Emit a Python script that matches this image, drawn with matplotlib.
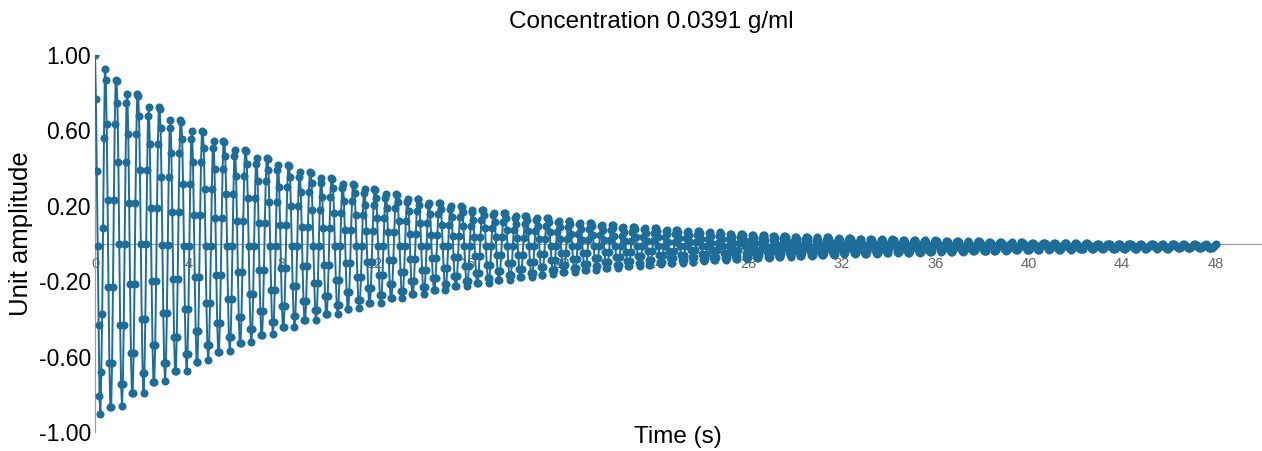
import numpy as np
import matplotlib
matplotlib.use('Agg')
import matplotlib.pyplot as plt

plt.rcParams['font.family'] = ['Liberation Sans', 'DejaVu Sans']

title = 'Concentration 0.0391 g/ml'
x_label = 'Time (s)'
y_label = 'Unit amplitude'
x_ticks = [0, 4, 8, 12, 16, 20, 24, 28, 32, 36, 40, 44, 48]
y_ticks = [1.00, 0.60, 0.20, -0.20, -0.60, -1.00]
sample_step = 0.0385  # s between samples

# signal, in thousandths, one oscillation (12 samples) per row
signal_milli = [
    1000, 766, 386, -12, -435, -810, -905, -684, -375, 80, 560, 928,
    868, 636, 233, -233, -636, -868, -868, -636, -233, 233, 636, 868,
    860, 745, 430, 0, -430, -745, -860, -745, -430, 0, 430, 745,
    795, 582, 213, -213, -582, -795, -795, -582, -213, 213, 582, 795,
    783, 677, 389, -5, -399, -687, -793, -687, -399, -5, 389, 677,
    723, 528, 190, -200, -538, -733, -733, -538, -200, 190, 528, 723,
    711, 614, 351, -10, -371, -634, -731, -634, -371, -10, 351, 614,
    657, 478, 169, -189, -498, -677, -677, -498, -189, 169, 478, 657,
    646, 557, 316, -15, -346, -587, -676, -587, -346, -15, 316, 557,
    596, 432, 149, -179, -462, -626, -626, -462, -179, 149, 432, 596,
    590, 509, 288, -15, -318, -539, -620, -539, -318, -15, 288, 509,
    544, 394, 135, -165, -424, -574, -574, -424, -165, 135, 394, 544,
    539, 465, 262, -15, -292, -495, -569, -495, -292, -15, 262, 465,
    497, 360, 122, -152, -390, -527, -527, -390, -152, 122, 360, 497,
    492, 424, 239, -15, -269, -454, -522, -454, -269, -15, 239, 424,
    454, 329, 111, -141, -359, -484, -484, -359, -141, 111, 329, 454,
    450, 388, 218, -15, -248, -418, -480, -418, -248, -15, 218, 388,
    415, 300, 100, -130, -330, -445, -445, -330, -130, 100, 300, 415,
    411, 354, 198, -15, -228, -384, -441, -384, -228, -15, 198, 354,
    378, 273, 90, -120, -303, -408, -408, -303, -120, 90, 273, 378,
    375, 323, 180, -15, -210, -353, -405, -353, -210, -15, 180, 323,
    345, 249, 82, -112, -279, -375, -375, -279, -112, 82, 249, 345,
    342, 294, 164, -15, -194, -324, -372, -324, -194, -15, 164, 294,
    315, 227, 74, -104, -257, -345, -345, -257, -104, 74, 227, 315,
    312, 268, 149, -15, -179, -298, -342, -298, -179, -15, 149, 268,
    287, 206, 66, -96, -236, -317, -317, -236, -96, 66, 206, 287,
    284, 244, 135, -15, -165, -274, -314, -274, -165, -15, 135, 244,
    261, 187, 59, -89, -217, -291, -291, -217, -89, 59, 187, 261,
    259, 222, 122, -15, -152, -252, -289, -252, -152, -15, 122, 222,
    238, 170, 53, -83, -200, -268, -268, -200, -83, 53, 170, 238,
    236, 202, 111, -15, -141, -232, -266, -232, -141, -15, 111, 202,
    217, 155, 47, -77, -185, -247, -247, -185, -77, 47, 155, 217,
    215, 184, 100, -15, -130, -214, -245, -214, -130, -15, 100, 184,
    198, 141, 42, -72, -171, -228, -228, -171, -72, 42, 141, 198,
    196, 168, 91, -15, -121, -198, -226, -198, -121, -15, 91, 168,
    179, 127, 37, -67, -157, -209, -209, -157, -67, 37, 127, 179,
    178, 152, 82, -15, -112, -182, -208, -182, -112, -15, 82, 152,
    163, 115, 33, -63, -145, -193, -193, -145, -63, 33, 115, 163,
    161, 137, 73, -15, -103, -167, -191, -167, -103, -15, 73, 137,
    148, 104, 29, -59, -134, -178, -178, -134, -59, 29, 104, 148,
    147, 125, 66, -15, -96, -155, -177, -155, -96, -15, 66, 125,
    135, 95, 25, -55, -125, -165, -165, -125, -55, 25, 95, 135,
    133, 113, 59, -15, -89, -143, -163, -143, -89, -15, 59, 113,
    122, 85, 22, -52, -115, -152, -152, -115, -52, 22, 85, 122,
    120, 102, 53, -15, -83, -132, -150, -132, -83, -15, 53, 102,
    111, 77, 19, -49, -107, -141, -141, -107, -49, 19, 77, 111,
    109, 92, 47, -15, -77, -122, -139, -122, -77, -15, 47, 92,
    100, 69, 16, -46, -99, -130, -130, -99, -46, 16, 69, 100,
    99, 84, 42, -15, -72, -114, -129, -114, -72, -15, 42, 84,
    90, 62, 13, -43, -92, -120, -120, -92, -43, 13, 62, 90,
    89, 75, 37, -15, -67, -105, -119, -105, -67, -15, 37, 75,
    82, 56, 11, -41, -86, -112, -112, -86, -41, 11, 56, 82,
    80, 67, 33, -15, -63, -97, -110, -97, -63, -15, 33, 67,
    73, 49, 9, -39, -79, -103, -103, -79, -39, 9, 49, 73,
    72, 60, 29, -15, -59, -90, -102, -90, -59, -15, 29, 60,
    66, 44, 7, -37, -74, -96, -96, -74, -37, 7, 44, 66,
    65, 54, 25, -15, -55, -84, -95, -84, -55, -15, 25, 54,
    59, 39, 5, -35, -69, -89, -89, -69, -35, 5, 39, 59,
    58, 48, 22, -15, -52, -78, -88, -78, -52, -15, 22, 48,
    53, 34, 3, -33, -64, -83, -83, -64, -33, 3, 34, 53,
    52, 43, 19, -15, -49, -73, -82, -73, -49, -15, 19, 43,
    47, 30, 2, -32, -60, -77, -77, -60, -32, 2, 30, 47,
    47, 39, 16, -15, -46, -69, -77, -69, -46, -15, 16, 39,
    42, 27, 0, -30, -57, -72, -72, -57, -30, 0, 27, 42,
    41, 33, 13, -15, -43, -63, -71, -63, -43, -15, 13, 33,
    37, 23, -1, -29, -53, -67, -67, -53, -29, -1, 23, 37,
    37, 30, 11, -15, -41, -60, -67, -60, -41, -15, 11, 30,
    32, 20, -2, -28, -50, -62, -62, -50, -28, -2, 20, 32,
    32, 26, 9, -15, -39, -56, -62, -56, -39, -15, 9, 26,
    28, 17, -3, -27, -47, -58, -58, -47, -27, -3, 17, 28,
    28, 22, 7, -15, -37, -52, -58, -52, -37, -15, 7, 22,
    25, 14, -4, -26, -44, -55, -55, -44, -26, -4, 14, 25,
    25, 20, 5, -15, -35, -50, -55, -50, -35, -15, 5, 20,
    22, 12, -5, -25, -42, -52, -52, -42, -25, -5, 12, 22,
    21, 16, 3, -15, -33, -46, -51, -46, -33, -15, 3, 16,
    19, 10, -6, -24, -40, -49, -49, -40, -24, -6, 10, 19,
    18, 14, 2, -15, -32, -44, -48, -44, -32, -15, 2, 14,
    16, 8, -7, -23, -38, -46, -46, -38, -23, -7, 8, 16,
    15, 11, 0, -15, -30, -41, -45, -41, -30, -15, 0, 11,
    13, 6, -7, -23, -36, -43, -43, -36, -23, -7, 6, 13,
    13, 9, -1, -15, -29, -39, -43, -39, -29, -15, -1, 9,
    11, 4, -8, -22, -34, -41, -41, -34, -22, -8, 4, 11,
    11, 8, -2, -15, -28, -38, -41, -38, -28, -15, -2, 8,
    8, 2, -9, -21, -32, -38, -38, -32, -21, -9, 2, 8,
    8, 5, -3, -15, -27, -35, -38, -35, -27, -15, -3, 5,
    6, 1, -9, -21, -31, -36, -36, -31, -21, -9, 1, 6,
    6, 3, -4, -15, -26, -33, -36, -33, -26, -15, -4, 3,
    4, -1, -10, -20, -29, -34, -34, -29, -20, -10, -1, 4,
    4, 1, -5, -15, -25, -31, -34, -31, -25, -15, -5, 1,
    3, -2, -10, -20, -28, -33, -33, -28, -20, -10, -2, 3,
    3, 1, -6, -15, -24, -31, -33, -31, -24, -15, -6, 1,
    1, -3, -11, -19, -27, -31, -31, -27, -19, -11, -3, 1,
    1, -1, -7, -15, -23, -29, -31, -29, -23, -15, -7, -1,
    0, -4, -11, -19, -26, -30, -30, -26, -19, -11, -4, 0,
    0, -2, -7, -15, -23, -28, -30, -28, -23, -15, -7, -2,
    -1, -5, -11, -19, -25, -29, -29, -25, -19, -11, -5, -1,
    -1, -3, -8, -15, -22, -27, -29, -27, -22, -15, -8, -3,
    -2, -6, -12, -18, -24, -28, -28, -24, -18, -12, -6, -2,
    -3, -5, -9, -15, -21, -25, -27, -25, -21, -15, -9, -5,
    -3, -7, -12, -18, -23, -27, -27, -23, -18, -12, -7, -3,
    -4, -5, -9, -15, -21, -25, -26, -25, -21, -15, -9, -5,
    -4, -7, -12, -18, -23, -26, -26, -23, -18, -12, -7, -4,
    -5, -6, -10, -15, -20, -24, -25, -24, -20, -15, -10, -6,
    -5, -8, -12, -18, -22, -25, -25, -22, -18, -12, -8, -5,
]

amplitude = np.array(signal_milli) / 1000.0
time = np.arange(len(amplitude)) * sample_step

W, H = 1262, 451
fig = plt.figure(figsize=(W / 100, H / 100), dpi=100)
ax = fig.add_axes([95 / W, 1 - 432 / H, 1 - 95 / W, (432 - 55) / H])

ax.plot(time, amplitude, color='#1e6d99', lw=1.4, marker='o', ms=5.8,
        markeredgewidth=0, zorder=3)

ax.set_xlim(0, 50)
ax.set_ylim(-1, 1)
ax.set_xticks(x_ticks)
ax.set_xticklabels([str(v) for v in x_ticks])
ax.set_yticks(y_ticks)
ax.set_yticklabels(['%.2f' % v for v in y_ticks])

for s in ['top', 'right']:
    ax.spines[s].set_visible(False)
ax.spines['bottom'].set_position(('data', 0))
ax.spines['bottom'].set_color('#a0a0a0')
ax.spines['left'].set_color('#a0a0a0')
ax.spines['bottom'].set_linewidth(0.9)
ax.spines['left'].set_linewidth(0.9)
ax.spines['bottom'].set_zorder(2)

ax.tick_params(axis='x', length=0, pad=10, labelsize=10.5, labelcolor='#666666')
ax.tick_params(axis='y', length=0, pad=3, labelsize=16.5, labelcolor='black')

fig.text(651 / W, 1 - 22 / H, title, ha='center', va='center', fontsize=17.5)
fig.text(678 / W, 1 - 437 / H, x_label, ha='center', va='center', fontsize=17.5)
fig.text(21 / W, 1 - 234 / H, y_label, ha='center', va='center',
         rotation=90, fontsize=18.5)

fig.savefig('out.png', dpi=100)
